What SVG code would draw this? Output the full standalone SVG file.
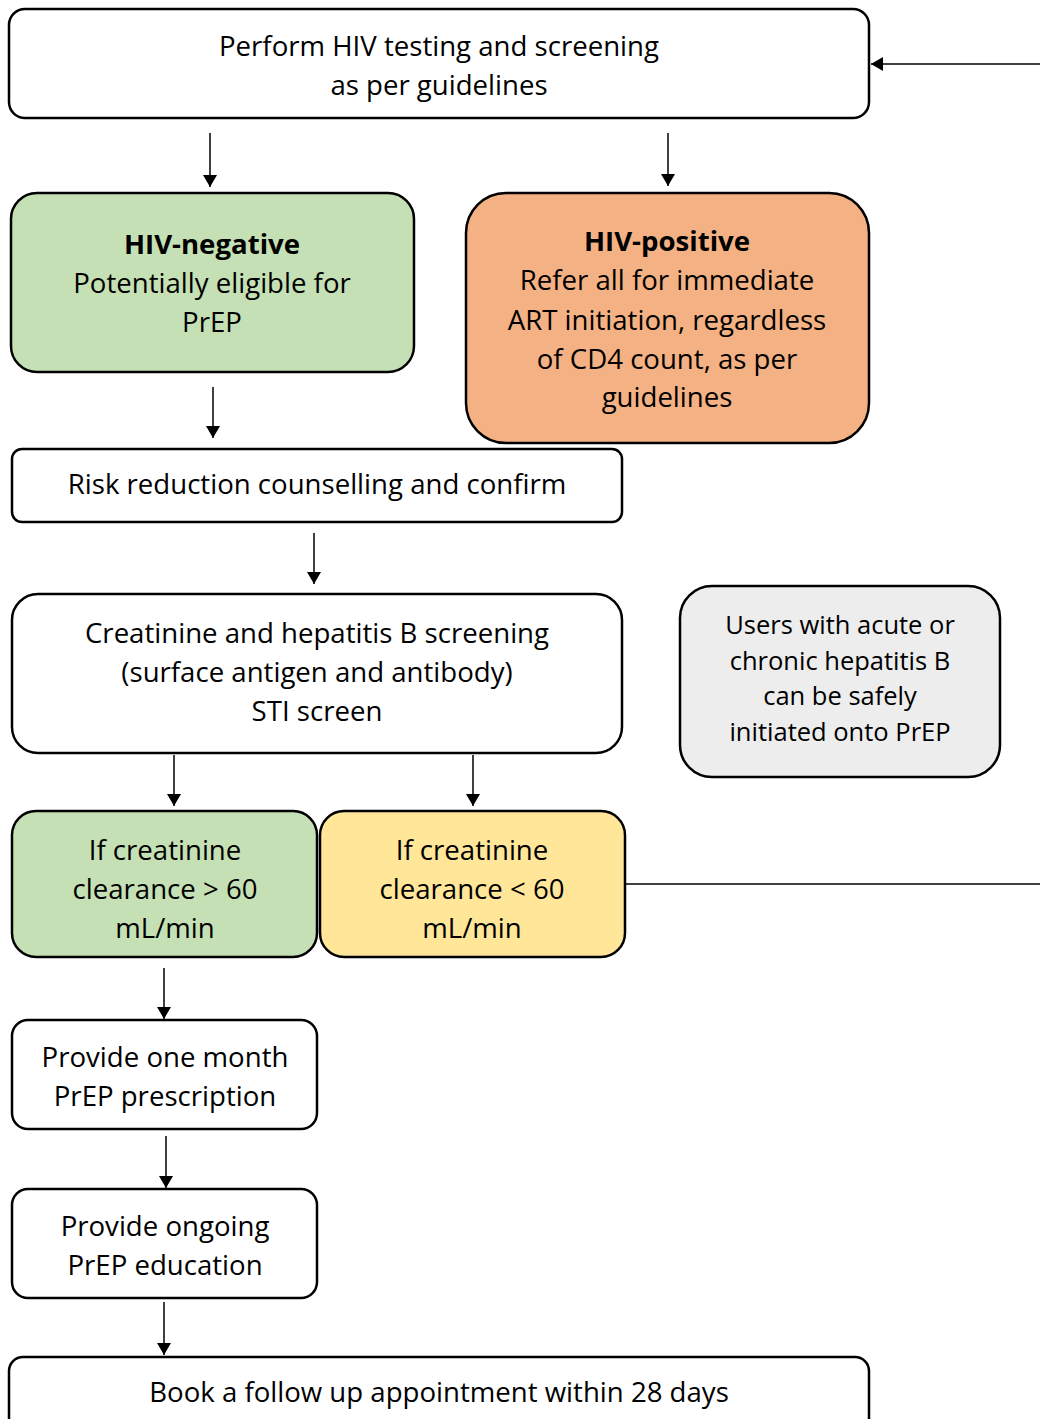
<svg xmlns="http://www.w3.org/2000/svg" width="1040" height="1419" viewBox="0 0 1040 1419">
<style>
.box{stroke:#000;stroke-width:2.5}
.t{font-family:"Open Sans","Liberation Sans",sans-serif;font-size:27.6px;fill:#000;text-anchor:middle}
.s{font-size:25.5px}
.b{font-weight:bold}
.c{stroke:#000;stroke-width:1.5;fill:none}
</style>
<defs>
<marker id="ah" viewBox="0 0 12 14" refX="12" refY="7" markerWidth="12" markerHeight="14" markerUnits="userSpaceOnUse" orient="auto">
<path d="M0,0 L12,7 L0,14 Z" fill="#000"/>
</marker>
</defs>
<rect width="1040" height="1419" fill="#fff"/>
<g id="connectors">
<line class="c" x1="1040" y1="64" x2="871" y2="64" marker-end="url(#ah)"/>
<line class="c" x1="210" y1="133" x2="210" y2="187" marker-end="url(#ah)"/>
<line class="c" x1="668" y1="133" x2="668" y2="186" marker-end="url(#ah)"/>
<line class="c" x1="213" y1="387" x2="213" y2="438" marker-end="url(#ah)"/>
<line class="c" x1="314" y1="533" x2="314" y2="584" marker-end="url(#ah)"/>
<line class="c" x1="174" y1="755" x2="174" y2="806" marker-end="url(#ah)"/>
<line class="c" x1="473" y1="755" x2="473" y2="806" marker-end="url(#ah)"/>
<line class="c" x1="626" y1="884" x2="1040" y2="884"/>
<line class="c" x1="164" y1="968" x2="164" y2="1019" marker-end="url(#ah)"/>
<line class="c" x1="166" y1="1136" x2="166" y2="1188" marker-end="url(#ah)"/>
<line class="c" x1="164" y1="1302" x2="164" y2="1355" marker-end="url(#ah)"/>
</g>
<g id="n1">
<rect class="box" x="9" y="9" width="860" height="109" rx="16" fill="#fff"/>
<text class="t" x="439" y="56">Perform HIV testing and screening</text>
<text class="t" x="439" y="95">as per guidelines</text>
</g>
<g id="n2">
<rect class="box" x="11" y="193" width="403" height="179" rx="26" fill="#c5e0b4"/>
<text class="t b" x="212" y="254">HIV-negative</text>
<text class="t" x="212" y="293">Potentially eligible for</text>
<text class="t" x="212" y="332">PrEP</text>
</g>
<g id="n3">
<rect class="box" x="466" y="193" width="403" height="250" rx="40" fill="#f4b183"/>
<text class="t b" x="667" y="251">HIV-positive</text>
<text class="t" x="667" y="290">Refer all for immediate</text>
<text class="t" x="667" y="330">ART initiation, regardless</text>
<text class="t" x="667" y="369">of CD4 count, as per</text>
<text class="t" x="667" y="407">guidelines</text>
</g>
<g id="n4">
<rect class="box" x="12" y="449" width="610" height="73" rx="10" fill="#fff"/>
<text class="t" x="317" y="494">Risk reduction counselling and confirm</text>
</g>
<g id="n5">
<rect class="box" x="12" y="594" width="610" height="159" rx="26" fill="#fff"/>
<text class="t" x="317" y="643">Creatinine and hepatitis B screening</text>
<text class="t" x="317" y="682">(surface antigen and antibody)</text>
<text class="t" x="317" y="721">STI screen</text>
</g>
<g id="n6">
<rect class="box" x="680" y="586" width="320" height="191" rx="32" fill="#ededed"/>
<text class="t s" x="840" y="634">Users with acute or</text>
<text class="t s" x="840" y="670">chronic hepatitis B</text>
<text class="t s" x="840" y="705">can be safely</text>
<text class="t s" x="840" y="741">initiated onto PrEP</text>
</g>
<g id="n7">
<rect class="box" x="12" y="811" width="305" height="146" rx="24" fill="#c5e0b4"/>
<text class="t" x="165" y="860">If creatinine</text>
<text class="t" x="165" y="899">clearance &gt; 60</text>
<text class="t" x="165" y="938">mL/min</text>
</g>
<g id="n8">
<rect class="box" x="320" y="811" width="305" height="146" rx="24" fill="#ffe699"/>
<text class="t" x="472" y="860">If creatinine</text>
<text class="t" x="472" y="899">clearance &lt; 60</text>
<text class="t" x="472" y="938">mL/min</text>
</g>
<g id="n9">
<rect class="box" x="12" y="1020" width="305" height="109" rx="16" fill="#fff"/>
<text class="t" x="165" y="1067">Provide one month</text>
<text class="t" x="165" y="1106">PrEP prescription</text>
</g>
<g id="n10">
<rect class="box" x="12" y="1189" width="305" height="109" rx="16" fill="#fff"/>
<text class="t" x="165" y="1236">Provide ongoing</text>
<text class="t" x="165" y="1275">PrEP education</text>
</g>
<g id="n11">
<rect class="box" x="9" y="1357" width="860" height="90" rx="14" fill="#fff"/>
<text class="t" x="439" y="1402">Book a follow up appointment within 28 days</text>
</g>
</svg>
